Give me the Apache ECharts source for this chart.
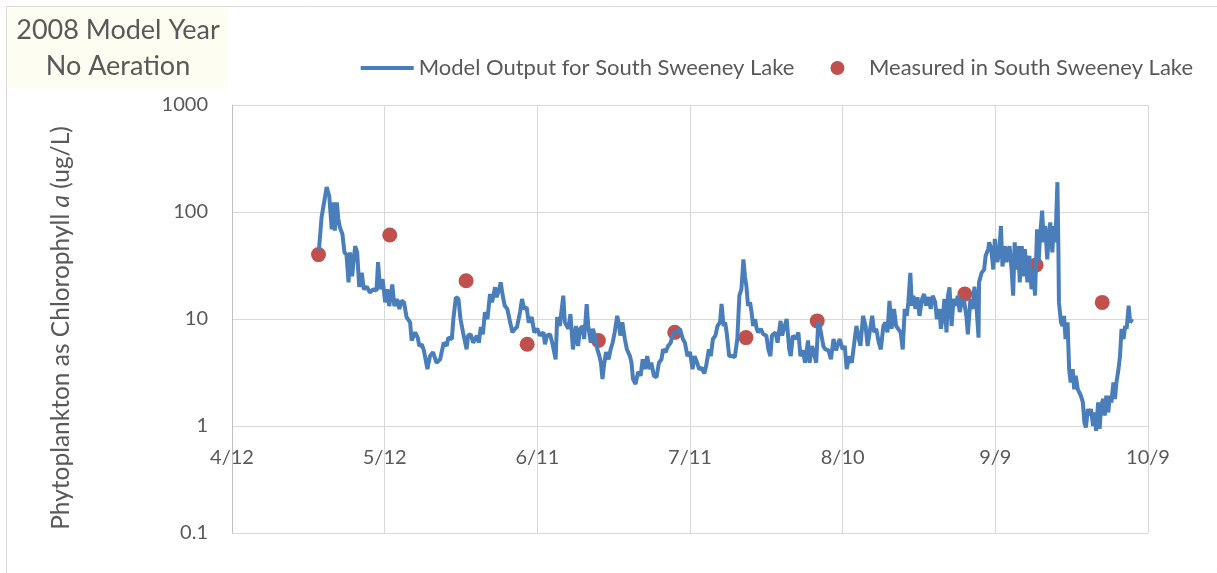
<!DOCTYPE html>
<html>
<head>
<meta charset="utf-8">
<script src="https://cdn.jsdelivr.net/npm/echarts@6/dist/echarts.min.js"></script>
<style>
  html, body { margin: 0; padding: 0; background: #fff; }
  #chart { width: 1217px; height: 573px; }
</style>
</head>
<body>
<div id="chart"></div>
<script>
// x ticks, 30 day steps from 4/12/2008
var xTickLabels = ['4/12', '5/12', '6/11', '7/11', '8/10', '9/9', '10/9'];
var yTickLabels = ['0.1', '1', '10', '100', '1000'];

// measured samples
var measuredDates = ['2008-04-29', '2008-05-13', '2008-05-28', '2008-06-09', '2008-06-23', '2008-07-08',
  '2008-07-22', '2008-08-05', '2008-09-03', '2008-09-17', '2008-09-30'];
var measuredChl = [40, 61, 22.8, 5.8, 6.3, 7.5, 6.7, 9.6, 17.1, 32, 14.3];

// model output, days after 4/12 and chl a (ug/L)
var modelDays = [
  17.1, 17.6, 18.6, 19.1, 19.6, 19.9, 20.2, 20.6, 20.9, 21.2, 21.7, 22.1, 22.5, 22.9, 23.2, 23.6, 24.2, 24.6, 25.0, 25.5,
  25.9, 26.5, 27.1, 27.8, 28.4, 28.7, 29.1, 29.6, 30.1, 30.5, 30.9, 31.5, 31.9, 32.4, 32.9, 33.3, 33.8, 34.3, 35.0, 35.3,
  36.0, 36.5, 36.8, 37.3, 37.7, 38.4, 38.9, 39.5, 40.2, 40.9,
  41.6, 42.2, 42.5, 43.2, 43.5, 44.0, 44.5, 44.9, 45.4, 46.1, 46.4, 46.9, 47.4, 48.1, 48.5, 48.9, 49.3, 49.7, 50.2, 50.7,
  51.1, 51.7, 52.0, 52.5, 52.8, 53.2, 53.6, 54.1, 54.6, 55.1, 55.6, 56.0, 56.6, 57.0, 57.4, 57.9, 58.3, 58.9, 59.4, 60.0,
  60.5, 61.2, 61.5, 61.9, 62.5, 63.0, 63.6, 63.9, 64.4, 65.1, 65.4, 66.1, 66.5,
  67.0, 67.6, 68.0, 68.4, 68.9, 69.2, 69.7, 70.0, 70.5, 70.9, 71.3, 71.8, 72.2, 72.5, 72.8, 73.1, 73.5, 74.0, 74.4, 74.8,
  75.2, 75.7, 76.1, 76.3, 76.7, 77.2, 77.6, 78.2, 78.5, 78.8, 79.3, 79.8, 80.3, 80.7, 81.1, 81.6, 82.0, 82.4, 82.9, 83.4,
  83.9, 84.4, 84.7, 85.2, 85.7, 86.2, 86.7, 87.4, 88.0, 88.6, 89.0, 89.5, 90.0, 90.5, 90.9, 91.4, 91.8, 92.3, 92.8, 93.2,
  93.7, 94.1, 94.5, 95.0, 95.4, 95.9, 96.2, 96.6, 96.9, 97.2, 97.7, 98.3, 98.8, 99.3, 99.7, 100.1, 100.5, 100.8,
  101.1, 101.4, 101.8, 102.1, 102.4, 102.8, 103.1, 103.4, 103.9, 104.4, 105.0, 105.4, 105.8, 106.1, 106.8, 107.2, 107.8, 108.1, 108.6, 109.0,
  109.5, 109.8, 110.2, 110.8, 111.3, 111.7, 112.2, 112.6, 113.2, 113.5, 114.0, 114.4, 114.8, 115.2, 115.5, 116.2, 116.6, 117.2, 117.7,
  118.2, 118.7, 119.4, 120.0, 120.4, 120.8, 121.3, 121.8, 122.2, 122.7, 123.2, 123.5, 124.0, 124.5, 124.9, 125.3, 125.8, 126.2, 126.6, 127.1,
  127.5, 128.0, 128.4, 128.8, 129.2, 129.6, 130.1, 130.5, 130.9, 131.4, 131.8, 132.2, 132.6, 132.9, 133.3, 133.6, 133.9, 134.3, 134.7, 135.1,
  135.6, 136.0, 136.4, 136.9, 137.3, 137.7, 138.2, 138.5, 139.0, 139.3, 139.7, 140.0, 140.4, 140.7, 141.0, 141.4, 141.8, 142.3, 142.6, 143.0,
  143.5, 143.9, 144.3, 144.6, 145.1, 145.5, 145.9, 146.2, 146.7, 146.8, 147.3, 147.8, 148.1, 148.6,
  148.8, 149.2, 149.6, 149.9, 150.4, 150.8, 151.1, 151.4, 151.9, 152.2, 152.5, 152.8, 153.2, 153.5, 153.8, 154.2, 154.5, 154.8, 155.2, 155.5,
  155.8, 156.3, 156.7, 157.1, 157.5, 157.8, 158.2, 158.5, 158.8, 159.2, 159.5, 159.8, 160.2, 160.5, 160.8, 161.2, 161.5, 161.8, 162.2, 162.4,
  162.5, 162.9, 163.2, 163.5, 163.8, 164.2, 164.5, 164.8, 165.2, 165.5, 165.8, 166.2, 166.5, 166.8, 167.2, 167.5, 167.8, 168.2, 168.5, 168.8,
  169.2, 169.5, 169.8, 170.2, 170.5, 170.8, 171.2, 171.5, 171.8, 172.2, 172.5, 172.8, 173.2, 173.5, 173.8, 174.2, 174.5, 174.8, 175.2, 175.5,
  175.8, 176.2, 176.5, 176.9
];
var modelChl = [
  45, 89, 171, 142, 69, 123, 67, 123, 86, 72, 62, 42, 40, 22, 42, 25, 48, 42, 20, 27,
  19, 20, 17.7, 19, 18.4, 34, 19, 23.6, 14.3, 19, 13.2, 21, 13.2, 15.4, 12.4, 14.8, 14.3, 10.4, 9.3, 6.3,
  7.5, 6.7, 5.6, 5.8, 5.1, 3.4, 4.5, 4.9, 3.9, 4.2,
  6.0, 5.6, 6.7, 6.5, 10, 16, 15.4, 10, 7.5, 5.2, 7, 7.2, 6, 7, 6, 8.4, 7.2, 11.6, 10, 17.1,
  14.3, 19.8, 16, 19, 22, 16.5, 13.3, 12.4, 9.6, 7.5, 8.1, 8.4, 11.6, 15.4, 12.4, 12.9, 9.3, 10.4, 7.5, 8.1,
  7, 7.5, 5.8, 7, 7.2, 5.8, 4.2, 10.4, 8.6, 16.5, 9.3, 8.1, 11.1,
  5.2, 8.6, 5.6, 8.1, 8.6, 6.5, 13.8, 8.6, 6, 8.1, 7, 5.2, 4.5, 3.9, 2.75, 3.7, 4.9, 4.2, 5.2, 6,
  7.5, 10.7, 8.6, 7, 9.3, 6.5, 5.2, 4.5, 3.9, 2.75, 2.47, 3.2, 2.95, 4.2, 3.4, 4.5, 3.4, 3.9, 2.95, 2.85,
  3.9, 4.2, 5.2, 4.9, 5.6, 6, 7.5, 7.5, 8.1, 6.5, 6, 4.5, 4.9, 3.4, 4.5, 3.9, 3.4, 3.5, 3.1, 3.7,
  5.2, 4.5, 6.5, 7, 8.6, 9.3, 13.8, 8.6, 9.3, 7.5, 4.5, 4.5, 4.4, 6.5, 16.5, 19, 36, 25,
  20, 13.3, 14.3, 11.6, 8.6, 10, 8.1, 7.5, 8.1, 7.2, 7, 5.2, 4.5, 7, 7.5, 6, 9.6, 7, 8.6, 10,
  5.2, 4.5, 7, 6.5, 7.5, 4.5, 5.1, 3.9, 6.3, 3.9, 5.6, 4.7, 3.9, 9.3, 8.6, 5.6, 5.2, 5.1, 4.2,
  6.5, 5.1, 6.5, 5.2, 5.6, 3.4, 4.5, 3.9, 5.6, 8.6, 6.5, 5.6, 10.7, 8.6, 5.6, 7.5, 10.7, 7.5, 8.1, 6,
  5.2, 8.6, 9.3, 7.5, 14.8, 8.1, 12.4, 8.6, 8.1, 7.5, 5.2, 12.4, 10.7, 14.3, 27, 13.3, 16.5, 12.4, 16, 10.7,
  15.4, 17.1, 13.3, 16, 12.4, 16.5, 14.3, 10, 12.4, 8.1, 10.7, 15.4, 7.5, 16.5, 19.8, 8.6, 15.4, 13.3, 16.5, 11.6,
  15.4, 14.3, 10.7, 7.2, 15.4, 12.4, 20, 15.4, 6.7, 22, 27, 29, 39, 45,
  52, 45, 29, 56, 34, 45, 74, 31, 48, 34, 42, 48, 29, 16.5, 52, 29, 48, 22, 48, 25,
  45, 22, 39, 19, 29, 16.5, 69, 34, 60, 103, 52, 74, 36, 60, 80, 42, 74, 52, 190, 42,
  14.3, 9.3, 8.6, 10.7, 6.5, 9.3, 3.4, 2.55, 3.4, 2.2, 2.95, 2.2, 2.06, 1.92, 1.66, 1.08, 0.97, 1.44, 1.25, 1.44,
  1.0, 1.34, 0.9, 1.66, 0.94, 1.55, 1.79, 1.25, 1.92, 1.34, 1.92, 1.66, 2.55, 1.79, 2.55, 3.4, 4.5, 8.1, 6.5, 8.6,
  8.1, 13.3, 9.3, 10
];

var startDay = Date.UTC(2008, 3, 12);
function dayOf(s) {
  var p = s.split('-');
  return (Date.UTC(+p[0], +p[1] - 1, +p[2]) - startDay) / 86400000;
}

var modelData = [];
for (var i = 0; i < modelDays.length; i++) {
  modelData.push([modelDays[i], modelChl[i]]);
}
var measuredData = [];
for (var j = 0; j < measuredDates.length; j++) {
  measuredData.push([dayOf(measuredDates[j]), measuredChl[j]]);
}

var txt = '#595959';
var font = 'Lato, "Open Sans", sans-serif';

var chart = echarts.init(document.getElementById('chart'));
chart.setOption({
  animation: false,
  backgroundColor: '#fff',
  textStyle: { fontFamily: font },
  graphic: [
    {
      type: 'rect',
      shape: { x: 6.5, y: 6.5, width: 1230, height: 590 },
      style: { fill: 'none', stroke: '#d9d9d9', lineWidth: 1 },
      silent: true
    },
    {
      type: 'rect',
      shape: { x: 8, y: 8, width: 220, height: 80 },
      style: { fill: '#fdfdf2' },
      silent: true
    },
    {
      type: 'text',
      x: 118,
      y: 48,
      style: {
        text: '2008 Model Year\nNo Aeration',
        fill: txt,
        font: '27px ' + font,
        lineHeight: 36,
        align: 'center',
        verticalAlign: 'middle'
      },
      silent: true
    }
  ],
  legend: {
    right: 19,
    top: 52,
    itemWidth: 53,
    itemHeight: 14,
    itemGap: 36,
    textStyle: { color: txt, fontSize: 22, fontFamily: font },
    lineStyle: { width: 4 },
    data: [
      { name: 'Model Output for South Sweeney Lake', itemStyle: { opacity: 0 } },
      { name: 'Measured in South Sweeney Lake', icon: 'circle' }
    ]
  },
  grid: { left: 232, right: 69, top: 105, bottom: 40 },
  xAxis: {
    type: 'value',
    min: 0,
    max: 180,
    interval: 30,
    offset: -107,
    axisLine: { show: false },
    axisTick: { show: false },
    splitLine: { show: true, lineStyle: { color: '#d9d9d9', width: 1 } },
    axisLabel: {
      margin: 22,
      color: txt,
      fontSize: 20,
      fontFamily: font,
      formatter: function (v) { return xTickLabels[Math.round(v / 30)]; }
    }
  },
  yAxis: {
    type: 'log',
    logBase: 10,
    min: 0.1,
    max: 1000,
    axisLine: { show: true, lineStyle: { color: '#bfbfbf', width: 1 } },
    axisTick: { show: false },
    splitLine: { show: true, lineStyle: { color: '#d9d9d9', width: 1 } },
    axisLabel: {
      margin: 24,
      color: txt,
      fontSize: 20,
      fontFamily: font,
      formatter: function (v) {
        var k = Math.round(Math.log10(v)) + 1;
        return yTickLabels[k];
      }
    },
    name: '{n|Phytoplankton as Chlorophyll }{i|a}{n| (ug/L)}',
    nameLocation: 'middle',
    nameGap: 158,
    nameTextStyle: {
      padding: [0, 18, 0, 0],
      rich: {
        n: { color: txt, fontSize: 24.5, fontFamily: font },
        i: { color: txt, fontSize: 24.5, fontFamily: font, fontStyle: 'italic' }
      }
    }
  },
  series: [
    {
      name: 'Model Output for South Sweeney Lake',
      type: 'line',
      data: modelData,
      symbol: 'none',
      showSymbol: false,
      lineStyle: { color: '#4a7ebb', width: 4 },
      itemStyle: { color: '#4a7ebb' }
    },
    {
      name: 'Measured in South Sweeney Lake',
      type: 'scatter',
      data: measuredData,
      symbol: 'circle',
      symbolSize: 15,
      itemStyle: { color: '#c0504d', opacity: 1 }
    }
  ]
});
</script>
</body>
</html>
